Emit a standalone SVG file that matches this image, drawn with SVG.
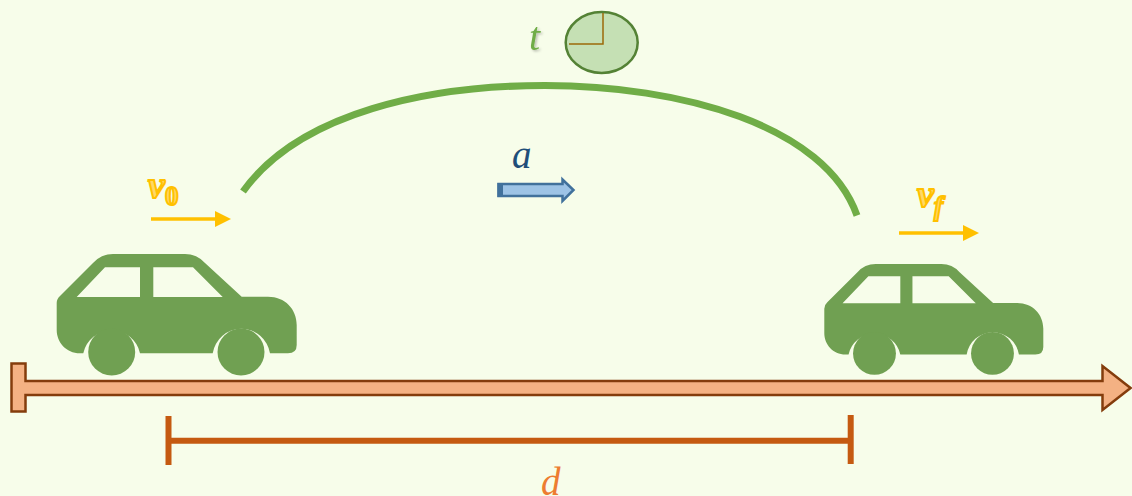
<svg xmlns="http://www.w3.org/2000/svg" width="1132" height="496" viewBox="0 0 1132 496">
<style>
.math{font-family:"Liberation Serif","DejaVu Serif",serif;font-style:italic}
.vel{fill:#FFD966;stroke:#FFC000;stroke-width:2;font-weight:bold;paint-order:normal}
.yarrow{stroke:#FFC000;stroke-width:3.5;fill:none}
.yhead{fill:#FFC000}
.ruler{stroke:#C55A11;stroke-width:6;fill:none}
</style>
<defs>
<filter id="soft" x="-30%" y="-30%" width="170%" height="170%"><feDropShadow dx="1.5" dy="1.5" stdDeviation="1" flood-color="#000" flood-opacity="0.25"/></filter>
<g id="car">
<path fill="#70A052" fill-rule="evenodd" d="M60 296 L93 263 Q101 254 113 254 L185 254 Q197 254 205 263 L241.700 296.700 L268 296.700 C285 296.700 296.700 309 296.700 325 L296.700 345 Q296.700 353.300 288 353.300 L270 353.300 A29 29 0 0 0 212.700 353.300 L140 353.300 A29 29 0 0 0 83.300 353.300 L80 353.300 C66 353.300 56.700 342 56.700 330 L56.700 303 Q56.700 299 60 296 Z M76.700 297 L140 297 L140 267.300 L105 267.300 Z M153.300 267.300 L153.300 297 L222.700 297 L193 267.300 Z"/>
<circle cx="111.700" cy="352" r="23.500" fill="#70A052"/>
<circle cx="241" cy="352" r="23.500" fill="#70A052"/>
</g>
</defs>
<rect id="background" width="1132" height="496" fill="#F7FDEA"/>
<g id="connectors">
<path id="arc" d="M243 191.500 C300 112 430 85.500 545 85.500 C680 85.500 825 125 857 215.500" fill="none" stroke="#70AD47" stroke-width="7"/>
<g id="arrow-v0"><path class="yarrow" d="M151 219 H217"/><path class="yhead" d="M215 211 L231 219 L215 227 Z"/></g>
<g id="arrow-vf"><path class="yarrow" d="M899 233 H965"/><path class="yhead" d="M963 225 L979 233 L963 241 Z"/></g>
<g id="arrow-a">
<path d="M498.500 184 H562.500 V179.500 L573.500 190 L562.500 201 V196 H498.500 Z" fill="#9DC3E6" stroke="#41719C" stroke-width="2.500"/>
<rect x="497.500" y="183" width="5.500" height="14" fill="#41719C"/>
</g>
<g id="distance-axis">
<path d="M11.500 363.500 H25.500 V381 H1102.500 V366 L1130.500 388 L1102.500 410 V395 H25.500 V411.500 H11.500 Z" fill="#F4B183" stroke="#843C0C" stroke-width="2.500"/>
</g>
<g id="distance-measure" class="ruler">
<path d="M168.500 416 V465"/><path d="M168.500 440.700 H850.700"/><path d="M850.700 415 V464"/>
</g>
</g>
<g id="car-start"><use href="#car"/></g>
<g id="car-end"><use href="#car" transform="translate(772.560 32.230) scale(0.9125)"/></g>
<g id="clock">
<ellipse cx="601.700" cy="42.500" rx="36" ry="30.500" fill="#C5E0B4" stroke="#548235" stroke-width="2.500"/>
<path d="M603 13 V44 H569" fill="none" stroke="#9C6A08" stroke-width="1.500"/>
</g>
<g id="label-t"><text class="math" x="529" y="50" font-size="40" fill="#70AD47" filter="url(#soft)">t</text></g>
<g id="label-a"><text class="math" x="512" y="168" font-size="39" fill="#1F4E79">a</text></g>
<g id="label-d"><text class="math" x="541" y="495" font-size="39" fill="#ED7D31">d</text></g>
<g id="label-v0"><text class="math vel" x="148" y="198" font-size="38">v<tspan font-size="27" dy="7" font-style="normal">0</tspan></text></g>
<g id="label-vf"><text class="math vel" x="917" y="207" font-size="38">v<tspan font-size="27" dy="8">f</tspan></text></g>
</svg>
